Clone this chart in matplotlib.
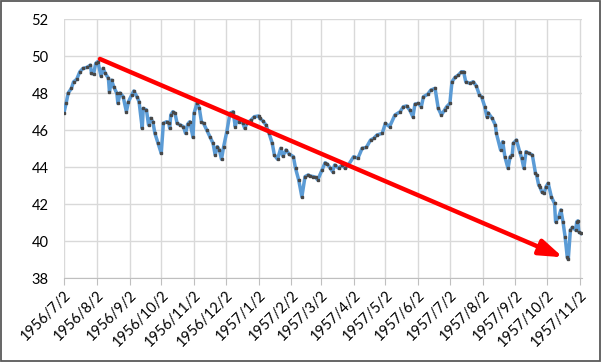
import matplotlib.pyplot as plt
import pandas as pd
from matplotlib.patches import Rectangle

# valores (aprox.)
fechas = [
    "1956-07-02", "1956-07-04", "1956-07-06", "1956-07-09", "1956-07-11", "1956-07-14",
    "1956-07-17", "1956-07-20", "1956-07-24", "1956-07-27", "1956-07-28", "1956-07-30",
    "1956-08-01", "1956-08-03", "1956-08-06", "1956-08-08", "1956-08-10", "1956-08-13",
    "1956-08-14", "1956-08-16", "1956-08-18", "1956-08-21", "1956-08-22", "1956-08-24",
    "1956-08-27", "1956-08-30", "1956-09-01", "1956-09-04", "1956-09-06", "1956-09-09",
    "1956-09-11", "1956-09-14", "1956-09-15", "1956-09-18", "1956-09-20", "1956-09-22",
    "1956-09-24", "1956-09-26", "1956-09-29", "1956-10-02", "1956-10-04", "1956-10-07",
    "1956-10-09", "1956-10-10", "1956-10-11", "1956-10-13", "1956-10-15", "1956-10-17",
    "1956-10-20", "1956-10-23", "1956-10-25", "1956-10-27", "1956-10-29", "1956-11-01",
    "1956-11-02", "1956-11-05", "1956-11-07", "1956-11-09", "1956-11-11", "1956-11-14",
    "1956-11-17", "1956-11-20", "1956-11-22", "1956-11-24", "1956-11-26", "1956-11-28",
    "1956-11-30", "1956-12-03", "1956-12-06", "1956-12-09", "1956-12-11", "1956-12-13",
    "1956-12-15", "1956-12-18", "1956-12-20", "1956-12-22", "1956-12-26", "1956-12-29",
    "1957-01-02", "1957-01-03", "1957-01-06", "1957-01-09", "1957-01-12", "1957-01-15",
    "1957-01-17", "1957-01-20", "1957-01-23", "1957-01-25", "1957-01-28", "1957-01-31",
    "1957-02-04", "1957-02-06", "1957-02-09", "1957-02-12", "1957-02-15", "1957-02-18",
    "1957-02-20", "1957-02-23", "1957-02-25", "1957-02-27", "1957-03-03", "1957-03-06",
    "1957-03-08", "1957-03-11", "1957-03-13", "1957-03-15", "1957-03-19", "1957-03-22",
    "1957-03-25", "1957-03-28", "1957-04-02", "1957-04-06", "1957-04-10", "1957-04-14",
    "1957-04-18", "1957-04-21", "1957-04-24", "1957-04-29", "1957-05-02", "1957-05-06",
    "1957-05-11", "1957-05-16", "1957-05-19", "1957-05-22", "1957-05-25", "1957-05-28",
    "1957-05-30", "1957-06-02", "1957-06-05", "1957-06-07", "1957-06-11", "1957-06-14",
    "1957-06-18", "1957-06-21", "1957-06-24", "1957-06-27", "1957-06-29", "1957-07-02",
    "1957-07-04", "1957-07-07", "1957-07-10", "1957-07-13", "1957-07-15", "1957-07-17",
    "1957-07-21", "1957-07-24", "1957-07-27", "1957-07-30", "1957-08-01", "1957-08-04",
    "1957-08-06", "1957-08-07", "1957-08-11", "1957-08-14", "1957-08-15", "1957-08-19",
    "1957-08-21", "1957-08-23", "1957-08-26", "1957-08-28", "1957-08-30", "1957-08-31",
    "1957-09-03", "1957-09-06", "1957-09-08", "1957-09-10", "1957-09-12", "1957-09-15",
    "1957-09-18", "1957-09-21", "1957-09-22", "1957-09-24", "1957-09-25", "1957-09-27",
    "1957-09-29", "1957-10-01", "1957-10-03", "1957-10-06", "1957-10-09", "1957-10-10",
    "1957-10-13", "1957-10-15", "1957-10-17", "1957-10-19", "1957-10-21", "1957-10-22",
    "1957-10-24", "1957-10-26", "1957-10-29", "1957-10-30", "1957-10-31", "1957-11-01",
    "1957-11-03",
]
valores = [
    46.94, 47.44, 48.00, 48.25, 48.60, 48.74,
    49.15, 49.33, 49.39, 49.51, 49.06, 49.03,
    49.60, 49.70, 48.92, 49.33, 49.06, 48.80,
    48.07, 48.70, 48.34, 47.98, 47.44, 48.00,
    47.80, 46.99, 47.53, 47.89, 48.11, 47.80,
    47.53, 46.09, 47.17, 47.08, 46.27, 46.63,
    46.45, 45.82, 45.28, 44.74, 46.36, 46.45,
    46.40, 46.09, 46.81, 46.99, 46.90, 46.36,
    46.27, 46.18, 45.82, 46.32, 46.45, 45.61,
    46.90, 47.48, 47.17, 46.45, 46.36, 46.00,
    45.64, 45.28, 44.65, 45.10, 44.92, 44.42,
    45.10, 45.91, 46.90, 46.99, 46.18, 46.68,
    46.45, 46.40, 46.09, 46.36, 46.54, 46.72,
    46.76, 46.63, 46.50, 46.27, 45.82, 45.28,
    44.65, 44.42, 45.01, 44.59, 44.92, 44.70,
    44.56, 43.93, 43.30, 42.39, 43.48, 43.57,
    43.51, 43.48, 43.44, 43.30, 43.84, 44.23,
    44.16, 43.93, 43.75, 44.11, 43.93, 44.11,
    43.93, 44.11, 44.56, 44.47, 45.01, 45.06,
    45.46, 45.55, 45.73, 45.82, 46.36, 46.18,
    46.81, 46.99, 47.26, 47.30, 47.08, 46.72,
    47.40, 47.44, 47.26, 47.80, 47.93, 48.16,
    48.25, 47.17, 46.81, 47.08, 47.26, 47.44,
    48.61, 48.85, 48.97, 49.15, 49.15, 48.61,
    48.52, 48.61, 48.38, 47.89, 47.80, 47.26,
    46.72, 46.94, 46.63, 46.27, 45.82, 44.92,
    45.37, 44.56, 43.93, 44.56, 44.65, 45.28,
    45.46, 44.83, 44.47, 43.93, 44.83, 44.74,
    44.65, 43.66, 43.57, 43.03, 42.94, 42.66,
    42.57, 42.94, 43.12, 42.39, 42.03, 41.04,
    41.31, 41.68, 41.04, 40.23, 39.15, 39.01,
    40.59, 40.74, 40.59, 41.04, 41.09, 40.50,
    40.41,
]

meses = ["1956-07-02", "1956-08-02", "1956-09-02", "1956-10-02", "1956-11-02",
         "1956-12-02", "1957-01-02", "1957-02-02", "1957-03-02", "1957-04-02",
         "1957-05-02", "1957-06-02", "1957-07-02", "1957-08-02", "1957-09-02",
         "1957-10-02", "1957-11-02"]
etiquetas_meses = ["1956/7/2", "1956/8/2", "1956/9/2", "1956/10/2", "1956/11/2",
                   "1956/12/2", "1957/1/2", "1957/2/2", "1957/3/2", "1957/4/2",
                   "1957/5/2", "1957/6/2", "1957/7/2", "1957/8/2", "1957/9/2",
                   "1957/10/2", "1957/11/2"]
marcas_y = [38, 40, 42, 44, 46, 48, 50, 52]

# flecha de tendencia
flecha_inicio = ("1956-08-05", 49.84)
flecha_fin = ("1957-10-17", 39.12)

plt.rcParams["font.family"] = ["Lato", "DejaVu Sans"]

fig = plt.figure(figsize=(6.02, 3.62), dpi=100)
ax = fig.add_axes([0.1063, 0.232, 0.8605, 0.7155])

x = pd.to_datetime(fechas)
ax.plot(x, valores, color="#5B9BD5", lw=2.5, marker="s", ms=1.7,
        mfc="#484848", mec="#484848", zorder=3)

ax.annotate("", xy=(pd.Timestamp(flecha_fin[0]), flecha_fin[1]),
            xytext=(pd.Timestamp(flecha_inicio[0]), flecha_inicio[1]),
            arrowprops=dict(arrowstyle="-|>,head_length=0.7,head_width=0.24",
                            mutation_scale=20, color="#FF0000", lw=3.2,
                            shrinkA=0, shrinkB=0), zorder=4)

ax.set_xlim(pd.Timestamp("1956-07-02"), pd.Timestamp("1957-11-04"))
ax.set_ylim(38, 52)
ax.set_xticks(pd.to_datetime(meses))
ax.set_xticklabels(etiquetas_meses, rotation=45, ha="right", rotation_mode="anchor")
ax.set_yticks(marcas_y)
ax.grid(True, color="#D9D9D9", lw=1)
ax.set_axisbelow(True)
for lado in ["top", "right", "left"]:
    ax.spines[lado].set_visible(False)
ax.spines["bottom"].set_color("#BFBFBF")
ax.tick_params(axis="x", direction="out", length=5, color="#BFBFBF",
               labelsize=10.5, pad=2)
ax.tick_params(axis="y", length=0, labelsize=10.5, pad=11)

fig.patches.append(Rectangle((0.002, 0.003), 0.995, 0.993, transform=fig.transFigure,
                             fill=False, edgecolor="#595959", lw=1.3))

fig.savefig("out.png", dpi=100)
